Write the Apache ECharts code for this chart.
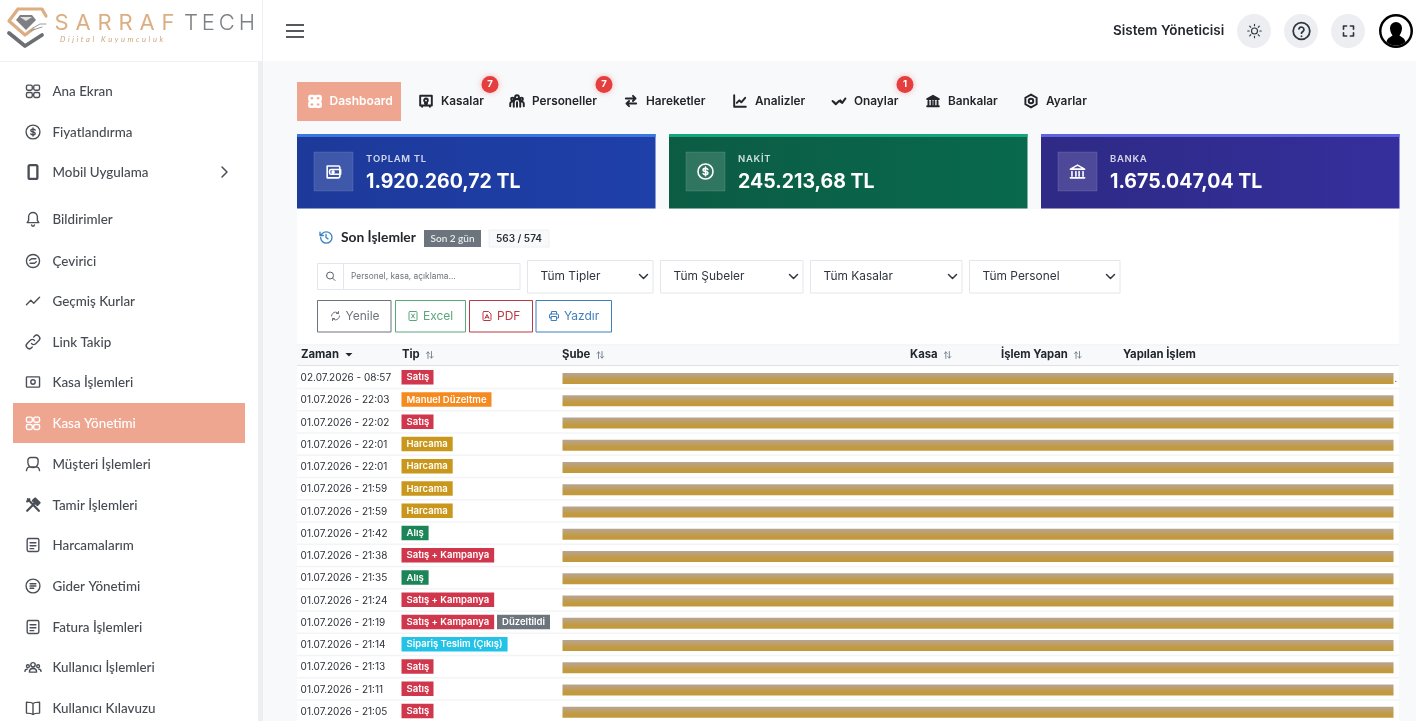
<!DOCTYPE html>
<html><head><meta charset="utf-8">
<style>html,body{margin:0;padding:0;background:#f8f9fb}#c{width:1416px;height:721px}</style>
<script src="https://cdn.jsdelivr.net/npm/echarts@6/dist/echarts.min.js"></script>
</head><body><div id="c"></div>
<script>
const menuItems=['Ana Ekran','Fiyatlandırma','Mobil Uygulama','Bildirimler','Çevirici','Geçmiş Kurlar','Link Takip','Kasa İşlemleri','Kasa Yönetimi','Müşteri İşlemleri','Tamir İşlemleri','Harcamalarım','Gider Yönetimi','Fatura İşlemleri','Kullanıcı İşlemleri','Kullanıcı Kılavuzu'];
const menuIcons=['grid','dollar','phone','bell','swap','trend','link','safe','grid','person','tools','doc','doc2','doc','users','book'];
const tabs=['Kasalar','Personeller','Hareketler','Analizler','Onaylar','Bankalar','Ayarlar'];
const cardTitles=['TOPLAM TL','NAKİT','BANKA'];
const cardValues=['1.920.260,72 TL','245.213,68 TL','1.675.047,04 TL'];
const filters=['Tüm Tipler','Tüm Şubeler','Tüm Kasalar','Tüm Personel'];
const headers=['Zaman','Tip','Şube','Kasa','İşlem Yapan','Yapılan İşlem'];
const times=['02.07.2026 - 08:57','01.07.2026 - 22:03','01.07.2026 - 22:02','01.07.2026 - 22:01','01.07.2026 - 22:01','01.07.2026 - 21:59','01.07.2026 - 21:59','01.07.2026 - 21:42','01.07.2026 - 21:38','01.07.2026 - 21:35','01.07.2026 - 21:24','01.07.2026 - 21:19','01.07.2026 - 21:14','01.07.2026 - 21:13','01.07.2026 - 21:11','01.07.2026 - 21:05'];
const types=['Satış','Manuel Düzeltme','Satış','Harcama','Harcama','Harcama','Harcama','Alış','Satış + Kampanya','Alış','Satış + Kampanya','Satış + Kampanya','Sipariş Teslim (Çıkış)','Satış','Satış','Satış'];
const typeColors={'Satış':'#d0374c','Satış + Kampanya':'#d0374c','Manuel Düzeltme':'#f58a1f','Harcama':'#c9971c','Alış':'#1c8558','Sipariş Teslim (Çıkış)':'#22c3e6'};

const F='Inter, "Noto Sans", sans-serif', FS='Lato, "Open Sans", sans-serif';
const cv=document.createElement('canvas').getContext('2d');
const tw=(s,font)=>{cv.font=font;return cv.measureText(s).width};
const G=[];
const rect=(x,y,w,h,fill,o={})=>G.push({type:'rect',shape:{x,y,width:w,height:h,r:o.r||0},style:{fill,stroke:o.stroke||null,lineWidth:o.lw||1,shadowBlur:o.blur||0,shadowColor:o.sc||'transparent'},silent:true});
const txt=(x,y,s,size,color,weight=400,o={})=>G.push({type:'text',x,y:y+.9,style:{text:s,font:`${o.italic?'italic ':''}${weight} ${size}px ${o.font||F}`,fill:color,align:o.align||'left',verticalAlign:'middle'},silent:true});
const circle=(cx,cy,r,fill,o={})=>G.push({type:'circle',shape:{cx,cy,r},style:{fill,stroke:o.stroke||null,lineWidth:o.lw||1,shadowBlur:o.blur||0,shadowColor:o.sc||'transparent'},silent:true});
const shapeNames=new Map();
const path=(d,x,y,s,stroke,o={})=>{
  if(!shapeNames.has(d)){const n='ic'+shapeNames.size;shapeNames.set(d,n);echarts.graphic.registerShape(n,echarts.graphic.extendPath(d,{}));}
  G.push({type:shapeNames.get(d),shape:{},x,y,scaleX:s,scaleY:s,style:{fill:o.fill||'none',stroke:o.fill?null:stroke,lineWidth:o.lw||1.8,lineCap:'round',lineJoin:'round'},silent:true});
};
const spacedTo=(x,y,s,size,color,width,o={})=>{const font=`${o.italic?'italic ':''}${o.weight||400} ${size}px ${o.font||F}`;const ch=[...s];const sum=ch.reduce((a,k)=>a+tw(k,font),0);const sp=(width-sum)/(ch.length-1);let cx=x;for(const k of ch){txt(cx,y,k,size,color,o.weight||400,o);cx+=tw(k,font)+sp}};
const c=(x,y,r)=>`M${x-r} ${y}a${r} ${r} 0 1 0 ${2*r} 0a${r} ${r} 0 1 0 ${-2*r} 0`;
const ICON={
 grid:`M5 4h4a2 2 0 0 1 2 2v3a2 2 0 0 1-2 2H5a2 2 0 0 1-2-2V6a2 2 0 0 1 2-2zM15 4h4a2 2 0 0 1 2 2v3a2 2 0 0 1-2 2h-4a2 2 0 0 1-2-2V6a2 2 0 0 1 2-2zM5 14h4a2 2 0 0 1 2 2v3a2 2 0 0 1-2 2H5a2 2 0 0 1-2-2v-3a2 2 0 0 1 2-2zM15 14h4a2 2 0 0 1 2 2v3a2 2 0 0 1-2 2h-4a2 2 0 0 1-2-2v-3a2 2 0 0 1 2-2z`,
 dollar:c(12,12,9.5)+'M15 9.5c-.5-1-1.6-1.5-3-1.5-1.7 0-3 .8-3 2s1.3 1.8 3 2 3 .8 3 2-1.3 2-3 2c-1.4 0-2.5-.5-3-1.5M12 6.5v11',
 phone:'M8 2.5h8a2 2 0 0 1 2 2v15a2 2 0 0 1-2 2H8a2 2 0 0 1-2-2v-15a2 2 0 0 1 2-2z',
 bell:'M12 3a6 6 0 0 0-6 6v5l-2 3h16l-2-3V9a6 6 0 0 0-6-6zM10 20a2 2 0 0 0 4 0',
 swap:c(12,12,9)+'M7.5 11l2.5-2h6M16.5 13l-2.5 2H8',
 trend:'M3 17l6-6 4 4 8-8',
 link:'M10 14a4 4 0 0 0 6 0l4-4a4.2 4.2 0 0 0-6-6l-1 1M14 10a4 4 0 0 0-6 0l-4 4a4.2 4.2 0 0 0 6 6l1-1',
 safe:'M4 5h16a1 1 0 0 1 1 1v12a1 1 0 0 1-1 1H4a1 1 0 0 1-1-1V6a1 1 0 0 1 1-1z'+c(12,12,3),
 person:'M9 3h6a4 4 0 0 1 4 4v3a7 7 0 0 1-14 0V7a4 4 0 0 1 4-4zM3 21c.5-3.5 3-5 5-5h8c2 0 4.5 1.5 5 5',
 tools:'M4 20L14 10M13 5l6 6M15 3l6 6-3 3-6-6zM5 4l15 16M4 7l3-3',
 doc:'M6 3h12a2 2 0 0 1 2 2v14a2 2 0 0 1-2 2H6a2 2 0 0 1-2-2V5a2 2 0 0 1 2-2zM8 9h8M8 13h8M8 17h5',
 doc2:c(12,12,9.5)+'M8 9h8M8 12h8M8 15h5',
 users:c(12,9,3)+c(5,11,2)+c(19,11,2)+'M7 19c0-3 2-5 5-5s5 2 5 5zM1 18c0-2 1-3 3-3M23 18c0-2-1-3-3-3',
 book:'M12 6C10 4 7 4 3 4v15c4 0 7 0 9 2 2-2 5-2 9-2V4c-4 0-7 0-9 2zM12 6v15',
 wallet:'M4 5h14a2 2 0 0 1 2 2v11a2 2 0 0 1-2 2H4zM9 9.5h12v6H9a2 2 0 0 1-2-2v-2a2 2 0 0 1 2-2z'+c(11.5,12.5,1.2),
 bank:'M3 9l9-5 9 5zM5 12v6M10 12v6M14 12v6M19 12v6M3 20h18',
 arrows:'M4 8h15M15 4l4 4-4 4M20 16H5M9 12l-4 4 4 4',
 chart:'M3 3v18h18M7 15l4-4 3 3 6-7',
 check:'M2 12l5 5 5-5 5 3 5-7M7 17l-2-3M17 15l-3-4',
 gear:'M12 2l8.7 5v10L12 22l-8.7-5V7z'+c(12,12,3.5),
 sun:c(12,12,4)+'M12 3v2M12 19v2M3 12h2M19 12h2M5.6 5.6l1.4 1.4M17 17l1.4 1.4M5.6 18.4L7 17M17 7l1.4-1.4',
 help:c(12,12,9.5)+'M9 9.5a3 3 0 0 1 5.8 1c0 2-2.8 2.5-2.8 4M12 17.8v.2',
 full:'M4 9V4h5M15 4h5v5M20 15v5h-5M9 20H4v-5',
 hist:'M4 12a8.5 8.5 0 1 0 2.5-6L3 9M3 4v5h5M12 7.5V12l3 2',
 search:c(11,11,7)+'M16.5 16.5L21 21',
 refresh:'M20 12a8 8 0 0 1-14 5M4 12a8 8 0 0 1 14-5M18 3v4h-4M6 21v-4h4',
 excel:'M6 3h12a2 2 0 0 1 2 2v14a2 2 0 0 1-2 2H6a2 2 0 0 1-2-2V5a2 2 0 0 1 2-2zM9 8l6 8M15 8l-6 8',
 pdf:'M6 3h9l5 5v11a2 2 0 0 1-2 2H6a2 2 0 0 1-2-2V5a2 2 0 0 1 2-2zM8 17l4-8 4 8M9.5 14.5h5',
 printer:'M7 8V3h10v5M5 8h14a2 2 0 0 1 2 2v6h-4M7 16H3v-6a2 2 0 0 1 2-2M7 13h10v8H7z',
 sort:'M8 20V5M4.5 8.5L8 5l3.5 3.5M16 4v15M12.5 15.5L16 19l3.5-3.5',
 tabsafe:'M3 4h18v15H3zM6 19v2M18 19v2M12 8a3 3 0 0 1 1.5 5.5V16h-3v-2.5A3 3 0 0 1 12 8z',
 crew:c(12,6,3)+c(5,9,2.2)+c(19,9,2.2)+'M7 21v-7a5 5 0 0 1 10 0v7M1.5 20v-4a3.5 3.5 0 0 1 3.5-3M22.5 20v-4a3.5 3.5 0 0 0-3.5-3M12 14v7'
};
const icon=(n,cx,cy,size,color,o={})=>path(ICON[n],cx-size/2,cy-size/2,size/24,color,{lw:o.lw||1.8});

rect(0,0,1416,721,'#f8f9fb');
rect(0,0,1416,61,'#ffffff');
rect(0,61,258,660,'#ffffff');
rect(258,61,5,660,'#eceef1');
rect(262,0,1,61,'#f0f1f3');
rect(0,61,262,1,'#eff0f2');

path('M18 9H42L46 16M18 9L9 21L25 35L33 29',0,0,1,'#dcae82',{lw:3.2});
path('M9 33L25 46L42 35',0,0,1,'#6b6f74',{lw:3.8});
path('M20 15H32L36 20L26 30L16 20Z',0,0,1,'#777',{fill:'#7d7f83'});
path('M20 17H32L26 21Z',0,0,1,'#eee',{fill:'#e2e2e3'});
path('M33 28L40 24H46M30 31L42 27',0,0,1,'#9a9a9a',{lw:1});
spacedTo(54.5,22.5,'SARRAF',22,'#dcae82',120,{font:'Inter, sans-serif',weight:400});
spacedTo(184,22.5,'TECH',22,'#7d8185',71,{font:'Inter, sans-serif',weight:300});
spacedTo(60,38.5,'Dijital Kuyumculuk',7.5,'#c8a77e',103,{italic:true,font:'Lato, sans-serif'});

[25,31,37].forEach(y=>rect(286,y-.8,18,1.6,'#2b3036'));
txt(1113,29.6,'Sistem Yöneticisi',13.5,'#23282f',600);
[1254,1301,1348].forEach(x=>circle(x,31,17,'#eceef2'));
icon('sun',1254.5,31,18,'#2f3640',{lw:1.5});
icon('help',1301.5,31,21,'#2f3640',{lw:2});
icon('full',1348.5,31,15,'#2f3640',{lw:2.6});
circle(1396,31,17,'#000000');
circle(1396,31,14.5,'#ffffff');
path('M-9.5 11C-9 7-5 6-3.5 4.5-5 2.5-6-.5-6-3a6 6 0 0 1 12 0c0 2.5-1 5.5-2.5 7.5C5 6 9 7 9.5 11A14.5 14.5 0 0 1-9.5 11z',1396,31,1,'#000',{fill:'#000'});

const gaps=[91,132,172,219,261,301,342,382,423,464,505,545,586,627,667,708];
menuItems.forEach((m,i)=>{
  const y=gaps[i], active=m==='Kasa Yönetimi';
  if(active) rect(13,403,232,40,'#efa691');
  const col=active?'#ffffff':'#4a4f57';
  icon(menuIcons[i],33,y,17.5,col,{lw:m==='Mobil Uygulama'?3.2:m==='Tamir İşlemleri'?3:1.9});
  txt(52.5,y,m,13.4,active?'#ffffff':'#464b52',500,{font:FS});
});
path('M222 167l5 5-5 5',0,0,1,'#4a4f57',{lw:1.5});

rect(297,82,104,39,'#efa691');
icon('grid',315,101,15,'#fff',{lw:4});
txt(329.5,100.6,'Dashboard',12,'#fff',600);
const tabX=[441,532,646,755,854,948,1046], tabIc=['tabsafe','crew','arrows','chart','check','bank','gear'];
tabs.forEach((t,i)=>{
  txt(tabX[i],100.6,t,11.8,'#22262b',600);
  icon(tabIc[i],tabX[i]-15,101,15.5,'#22262b',{lw:3});
});
[[490,'7'],[604,'7'],[905,'1']].forEach(([x,b])=>{circle(x,84.5,8.5,'#e53e3e',{blur:6,sc:'rgba(229,62,62,.35)'});txt(x,83.6,b,9.5,'#fff',700,{align:'center'})});

const cardX=[297,669,1041], cardC=[['#1d3a9a','#1f3fa9','#3b78dd'],['#0c5c44','#08694c','#14a67c'],['#2e2a85','#342f9c','#5f63dd']], cardIc=['wallet','dollar','bank'];
cardValues.forEach((v,i)=>{
  const x=cardX[i];
  G.push({type:'rect',shape:{x,y:134,width:358.5,height:74.5},style:{fill:new echarts.graphic.LinearGradient(0,0,1,0,[{offset:0,color:cardC[i][0]},{offset:1,color:cardC[i][1]}])},silent:true});
  rect(x,134,358.5,3,cardC[i][2]);
  rect(x+17,152,39,39,'rgba(255,255,255,.15)',{stroke:'rgba(255,255,255,.12)'});
  icon(cardIc[i],x+36.5,171.5,19,'#fff',{lw:2});
  spacedTo(x+69,158,cardTitles[i],9.5,'rgba(255,255,255,.8)',tw(cardTitles[i],'600 9.5px Inter')+.7*(cardTitles[i].length-1),{weight:600});
  txt(x+69,180.8,v,19.5,'#ffffff',700);
});

rect(297,209,1102,512,'#ffffff');
icon('hist',326,237.5,16,'#3b82c4',{lw:2});
txt(341,236.2,'Son İşlemler',13.8,'#23272d',700,{font:FS});
rect(424,230,57,17,'#6c757d');
txt(452.5,237.8,'Son 2 gün',10,'#f1f2f3',500,{align:'center',font:FS});
rect(489,230,60,17,'#f8f9fa',{stroke:'#eef0f2'});
txt(519,237.8,'563 / 574',10,'#2a2f36',600,{align:'center'});

rect(317.5,263.5,202.5,26,'#fff',{stroke:'#e3e6ea'});
rect(317.5,263.5,26,26,'#fff',{stroke:'#e3e6ea'});
icon('search',330.5,276,12,'#59606a',{lw:2});
txt(351,276,'Personel, kasa, açıklama...',8.4,'#6c757d',400);
const selX=[[527,125.5],[660,142.5],[810,151.5],[969,150.5]];
filters.forEach((f,i)=>{
  const [x,w]=selX[i];
  rect(x+.5,260.5,w,32.5,'#fff',{stroke:'#e3e6ea'});
  txt(x+13.5,276,f,11.9,'#2f3640',400);
  path(`M${x+w-13} 274.5l4 4 4-4`,0,0,1,'#2f3640',{lw:1.5});
});
const btns=[['Yenile',317,73.5,'#6c757d','refresh',345.5],['Excel',395,70,'#5aa77a','excel',423],['PDF',469,63,'#b93a45','pdf',497],['Yazdır',535.5,75.5,'#3f7fbd','printer',564]];
btns.forEach(([t,x,w,col,ic,tx])=>{
  rect(x+.5,300.5,w,31.5,'#fff',{stroke:col});
  icon(ic,tx-10,316,12,col,{lw:2});
  txt(tx,315.8,t,12,col,400);
});

rect(297,345,1102,21,'#f8f9fb');
rect(297,365,1102,1,'#dee2e6');
rect(297,344.5,1102,.8,'#eceef1');
const hX=[301,402,562,910,1001,1123];
headers.forEach((h,i)=>{
  txt(hX[i],353.8,h,11.3,'#23272d',700);
  const wd=tw(h,'700 11.3px Inter');
  if(i===0) path(`M${hX[i]+wd+6.5} 353l3.5 3.5 3.5-3.5z`,0,0,1,'#23272d',{fill:'#23272d'});
  else if(i<5) icon('sort',hX[i]+wd+10,355,10.5,'#6f7883',{lw:2});
});
const rowH=22.25, rowY=i=>377+i*rowH;
times.forEach((t,i)=>{
  const y=rowY(i);
  if(i>0) rect(297,y-11.5,1102,1.5,'#f3f4f6');
  txt(300.6,y+.1,t,10,'#2b3037',400);
  const ty=types[i], font='600 9.5px Inter', w=tw(ty,font)+10;
  const fb=ty==='Satış'?32:0;
  rect(401.5,y-7,fb||w,14.5,typeColors[ty]);
  txt(406.5,y-.4,ty,9.5,'#ffffff',600);
  if(t==='01.07.2026 - 21:19'){rect(497,y-7,53,14.5,'#6c757d');txt(523.5,y-.4,'Düzeltildi',9.5,'#fff',600,{align:'center'})}
});
txt(1394.5,378,'.',9,'#555');
times.forEach((t,i)=>{
  const y=rowY(i);
  G.push({type:'rect',shape:{x:562.5,y:y-4,width:831,height:11},style:{fill:new echarts.graphic.LinearGradient(0,0,0,1,[{offset:0,color:'#b7a596'},{offset:.35,color:'#bd9f68'},{offset:.65,color:'#c29a42'},{offset:1,color:'#c3983a'}])},silent:true});
});

const chart=echarts.init(document.getElementById('c'),null,{renderer:'canvas'});
chart.setOption({animation:false,graphic:{elements:G}});
</script></body></html>
